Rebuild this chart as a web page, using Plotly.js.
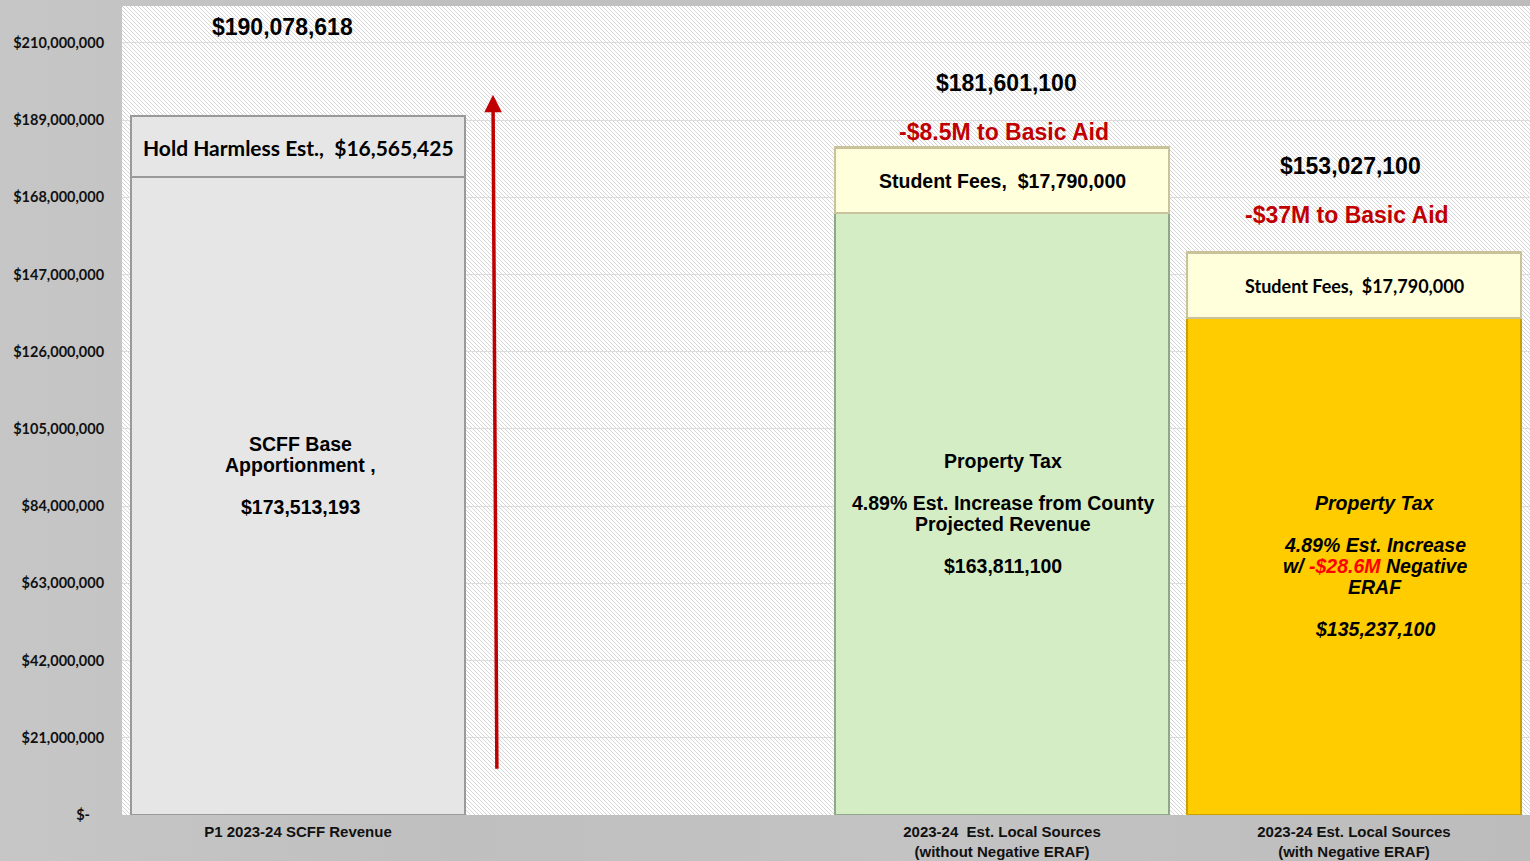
<!DOCTYPE html>
<html>
<head>
<meta charset="utf-8">
<script src="https://cdn.plot.ly/plotly-3.0.1.min.js"></script>
<style>
html,body{margin:0;padding:0;}
body{width:1530px;height:861px;background:linear-gradient(90deg,#c6c6c6 0%,#bfbfbf 30%,#c3c3c3 60%,#bcbcbc 100%);}
#chart{width:1530px;height:861px;}
</style>
</head>
<body>
<div id="chart"></div>
<script>
// ---- data ----
const categories = ['P1 2023-24 SCFF Revenue', '', '2023-24  Est. Local Sources<br>(without Negative ERAF)', '2023-24 Est. Local Sources<br>(with Negative ERAF)'];
const barPositions = [0, 2, 3];
const baseValues = [173513193, 163811100, 135237100];
const topValues = [16565425, 17790000, 17790000];
const totals = [190078618, 181601100, 153027100];
const baseLabels = [
  ['SCFF Base', 'Apportionment ,', '', '$173,513,193'],
  ['Property Tax', '', '4.89% Est. Increase from County', 'Projected Revenue', '', '$163,811,100'],
  ['Property Tax', '', '4.89% Est. Increase', 'w/ <span style="color:#ff0000">-$28.6M</span> Negative', 'ERAF', '', '$135,237,100']
];
const topLabels = ['Hold Harmless Est.,  $16,565,425', 'Student Fees,  $17,790,000', 'Student Fees,  $17,790,000'];
const totalLabels = ['$190,078,618', '$181,601,100', '$153,027,100'];
const basicAidLabels = ['', '-$8.5M to Basic Aid', '-$37M to Basic Aid'];
const yTickVals = [0, 21000000, 42000000, 63000000, 84000000, 105000000, 126000000, 147000000, 168000000, 189000000, 210000000];
const yTickText = ['$-\u00a0\u00a0\u00a0\u00a0', '$21,000,000', '$42,000,000', '$63,000,000', '$84,000,000', '$105,000,000', '$126,000,000', '$147,000,000', '$168,000,000', '$189,000,000', '$210,000,000'];
const arrowFrom = {x: 0.565, y: 12200000};
const arrowTo = {x: 0.554, y: 195900000};

// ---- styles ----
const baseColors = ['#e6e6e6', '#d5edc5', '#ffcc00'];
const baseLineColors = ['#9a9a9a', '#8fa88a', '#c8a000'];
const topColors = ['#e6e6e6', '#ffffdc', '#ffffdc'];
const topLineColors = ['#9a9a9a', '#c9c29a', '#c9c29a'];

const traces = [
  {type: 'bar', x: barPositions, y: baseValues, width: 0.95,
   marker: {color: baseColors, line: {color: baseLineColors, width: 2.5}}, hoverinfo: 'skip', showlegend: false},
  {type: 'bar', x: barPositions, y: topValues, width: 0.95,
   marker: {color: topColors, line: {color: topLineColors, width: 2.5}}, hoverinfo: 'skip', showlegend: false}
];

const ARIAL = 'Liberation Sans, Arial, sans-serif';
const CALIBRI = 'Lato, Open Sans, sans-serif';
const ann = [];
const baseShift = [20.5, 0, 0];
const baseXShift = [2, 1, 21];
const baseItalic = [false, false, true];
const lineH = 21;
barPositions.forEach((x, i) => {
  const lines = baseLabels[i];
  const n = lines.length;
  lines.forEach((ln, j) => {
    if (!ln) return;
    let t = '<b>' + ln + '</b>';
    if (baseItalic[i]) t = '<i>' + t + '</i>';
    ann.push({x: x, y: baseValues[i] / 2, xref: 'x', yref: 'y', text: t, showarrow: false,
              font: {family: ARIAL, size: 19.5, color: '#000'}, align: 'center',
              xshift: baseXShift[i], yshift: baseShift[i] + ((n - 1) / 2 - j) * lineH});
  });
});
const topFonts = [
  {family: CALIBRI, size: 21, color: '#000'},
  {family: ARIAL, size: 19.5, color: '#000'},
  {family: CALIBRI, size: 18, color: '#000'}
];
barPositions.forEach((x, i) => {
  ann.push({x: x, y: baseValues[i] + topValues[i] / 2, xref: 'x', yref: 'y', text: '<b>' + topLabels[i] + '</b>', showarrow: false,
            font: topFonts[i], align: 'center', yshift: -1});
});
const totalX = [-0.045, 2.014, 2.989];
const totalShift = [89, 64, 86];
const aidX = [0, 2.006, 2.98];
const aidShift = [0, 15, 37];
barPositions.forEach((x, i) => {
  ann.push({x: totalX[i], y: totals[i], xref: 'x', yref: 'y', text: '<b>' + totalLabels[i] + '</b>', showarrow: false,
            font: {family: ARIAL, size: 23, color: '#000'}, yshift: totalShift[i]});
  if (basicAidLabels[i]) {
    ann.push({x: aidX[i], y: totals[i], xref: 'x', yref: 'y', text: '<b>' + basicAidLabels[i] + '</b>', showarrow: false,
              font: {family: ARIAL, size: 23, color: '#c00000'}, yshift: aidShift[i]});
  }
});
ann.push({x: arrowTo.x, y: arrowTo.y, ax: arrowFrom.x, ay: arrowFrom.y, xref: 'x', yref: 'y', axref: 'x', ayref: 'y',
          showarrow: true, arrowhead: 2, arrowsize: 1, arrowwidth: 3.5, arrowcolor: '#c00000', text: ''});

// hatch background for plot area
const W = 1408, H = 809;
const hatchSvg = `<svg xmlns="http://www.w3.org/2000/svg" width="${W}" height="${H}" viewBox="0 0 ${W} ${H}" preserveAspectRatio="none">
<defs><pattern id="p" width="4" height="4" patternUnits="userSpaceOnUse">
<rect width="4" height="4" fill="#ffffff"/>
<path d="M-1,-1 L5,5 M-1,3 L1,5 M3,-1 L5,1" stroke="#d6d6d6" stroke-width="1"/>
</pattern></defs><rect width="${W}" height="${H}" fill="url(#p)"/></svg>`;
const hatchUri = 'data:image/svg+xml;base64,' + btoa(hatchSvg);

const layout = {
  width: 1530, height: 861,
  margin: {l: 122, r: 0, t: 6, b: 46},
  paper_bgcolor: 'rgba(0,0,0,0)',
  plot_bgcolor: 'rgba(0,0,0,0)',
  barmode: 'stack',
  xaxis: {
    range: [-0.5, 3.5], tickvals: [0, 1, 2, 3], ticktext: categories,
    showgrid: false, zeroline: false, showline: false, ticks: 'outside', ticklen: 3, tickcolor: 'rgba(0,0,0,0)',
    tickfont: {family: ARIAL, size: 15, color: '#111', weight: 'bold'},
    tickangle: 0
  },
  yaxis: {
    range: [0, 220060000], tickvals: yTickVals, ticktext: yTickText,
    showgrid: true, gridcolor: '#dcdcdc', gridwidth: 1, zeroline: false, showline: false,
    ticks: 'outside', ticklen: 14, tickcolor: 'rgba(0,0,0,0)',
    tickfont: {family: CALIBRI, size: 14.5, color: '#111', weight: 'bold'}
  },
  images: [{source: hatchUri, xref: 'paper', yref: 'paper', x: 0, y: 1, sizex: 1, sizey: 1,
            sizing: 'stretch', xanchor: 'left', yanchor: 'top', layer: 'below'}],
  annotations: ann,
  showlegend: false
};

Plotly.newPlot('chart', traces, layout, {displayModeBar: false, staticPlot: true});
</script>
</body>
</html>
